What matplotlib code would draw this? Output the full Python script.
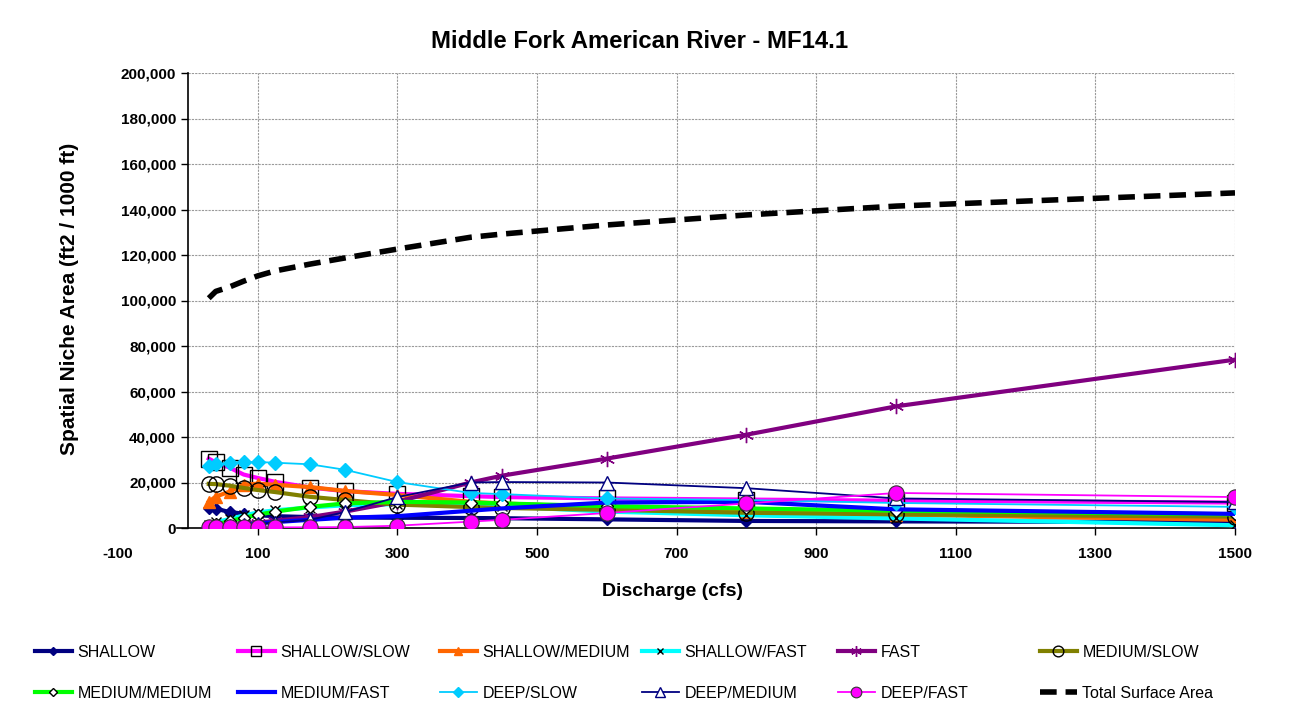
import matplotlib
matplotlib.use("Agg")
import matplotlib.pyplot as plt
from matplotlib.ticker import FuncFormatter

plt.rcParams['font.family'] = ['Liberation Sans', 'DejaVu Sans']

discharge = [30, 40, 60, 80, 100, 125, 175, 225, 300, 405, 450, 600, 800, 1015, 1500]

shallow        = [9000, 8500, 7000, 6300, 5600, 5200, 4800, 4600, 4500, 4400, 4300, 3800, 3100, 2900, 2600]
shallow_slow   = [30500, 28800, 26500, 23500, 22000, 20300, 17800, 16200, 15000, 14000, 13600, 13000, 12500, 12000, 11200]
shallow_medium = [11500, 13800, 16000, 19000, 19500, 19000, 18000, 16300, 14500, 11500, 10800, 9000, 7200, 5800, 3600]
shallow_fast   = [1500, 2500, 4000, 5500, 6800, 7800, 9000, 10000, 10500, 10000, 9500, 7200, 5600, 4200, 1200]
fast           = [500, 800, 1300, 1800, 2300, 3200, 4800, 7200, 11500, 20000, 23000, 30500, 41000, 53500, 74000]
medium_slow    = [19400, 19300, 18600, 17600, 16700, 15800, 13700, 12300, 10300, 9200, 8800, 8000, 6700, 6000, 5000]
medium_medium  = [800, 1600, 3000, 4500, 5800, 7200, 9300, 10800, 11500, 11200, 10800, 9600, 8600, 7600, 6000]
medium_fast    = [300, 600, 1000, 1500, 2000, 2600, 3600, 4500, 5200, 7600, 8600, 11200, 11500, 8200, 6200]
deep_slow      = [27200, 28000, 28500, 29000, 29000, 28700, 28000, 25600, 20200, 15400, 14900, 13000, 12300, 11000, 9300]
deep_medium    = [300, 500, 900, 1300, 1800, 2400, 3600, 7000, 13600, 20000, 20200, 20000, 17500, 13000, 11400]
deep_fast      = [300, 300, 300, 300, 300, 300, 300, 400, 1000, 2800, 3600, 6600, 10800, 15400, 13600]
total_area     = [101000, 104000, 106000, 108500, 110800, 113000, 116000, 118700, 122600, 127800, 129200, 133200, 137600, 141500, 147300]

labels = ['SHALLOW', 'SHALLOW/SLOW', 'SHALLOW/MEDIUM', 'SHALLOW/FAST', 'FAST', 'MEDIUM/SLOW',
          'MEDIUM/MEDIUM', 'MEDIUM/FAST', 'DEEP/SLOW', 'DEEP/MEDIUM', 'DEEP/FAST', 'Total Surface Area']
xticks = [-100, 100, 300, 500, 700, 900, 1100, 1300, 1500]
yticks = [0, 20000, 40000, 60000, 80000, 100000, 120000, 140000, 160000, 180000, 200000]

fig = plt.figure(figsize=(13, 7.15), dpi=100)
ax = fig.add_axes([118/1300, 1-528/715, (1235-118)/1300, (528-73)/715])

styles = [
    (shallow,        dict(color='#000080', lw=3, marker='D', ms=6, mfc='#000080', mec='#000080')),
    (shallow_slow,   dict(color='#FF00FF', lw=3, marker='s', ms=11, mfc='none', mec='black', mew=1)),
    (shallow_medium, dict(color='#FF6600', lw=3, marker='^', ms=9, mfc='#FF6600', mec='#FF6600')),
    (shallow_fast,   dict(color='#00FFFF', lw=3, marker='x', ms=7, mec='black', mew=1)),
    (fast,           dict(color='#800080', lw=3, marker=(6, 2, 0), ms=11, mec='#800080', mew=1)),
    (medium_slow,    dict(color='#808000', lw=3, marker='o', ms=11, mfc='none', mec='black', mew=1)),
    (medium_medium,  dict(color='#00FF00', lw=3, marker='D', ms=6, mfc='white', mec='black', mew=1)),
    (medium_fast,    dict(color='#0000FF', lw=3)),
    (deep_slow,      dict(color='#00CCFF', lw=1.3, marker='D', ms=7, mfc='#00CCFF', mec='#00CCFF')),
    (deep_medium,    dict(color='#000080', lw=1.3, marker='^', ms=10, mfc='white', mec='#000080', mew=1)),
    (deep_fast,      dict(color='#FF00FF', lw=1.3, marker='o', ms=11, mfc='#FF00FF', mec='#333333', mew=0.8)),
    (total_area,     dict(color='black', lw=4, dashes=(3, 1.6))),
]

handles = []
for (vals, st), lab in zip(styles, labels):
    h, = ax.plot(discharge, vals, label=lab, zorder=3, **st)
    handles.append(h)

ax.set_xlim(-100, 1500)
ax.set_ylim(0, 200000)
ax.set_xticks(xticks)
ax.set_yticks(yticks)
ax.xaxis.set_major_formatter(FuncFormatter(lambda v, p: f"{int(v)}"))
ax.yaxis.set_major_formatter(FuncFormatter(lambda v, p: f"{int(v):,}"))

for s in ['top', 'right']:
    ax.spines[s].set_visible(False)
ax.spines['left'].set_position(('data', 0))
ax.spines['left'].set_linewidth(1.2)
ax.spines['bottom'].set_linewidth(1.2)
ax.spines['bottom'].set_bounds(-15, 1500)
ax.tick_params(axis='both', direction='out', length=5, width=1, labelsize=11)
ax.tick_params(axis='x', pad=9)
ax.xaxis.get_major_ticks()[0].tick1line.set_visible(False)
for t in ax.get_xticklabels() + ax.get_yticklabels():
    t.set_fontweight('bold')

# gridlines
ax.hlines(yticks[1:], 0, 1500, colors='#9a9a9a', lw=0.8, linestyles=(0, (2, 1)), zorder=1)
ax.vlines(xticks[1:], 0, 200000, colors='#9a9a9a', lw=0.8, linestyles=(0, (2, 1)), zorder=1)

fig.text(640/1300, 1-42/715, 'Middle Fork American River - MF14.1', fontsize=17.2,
         fontweight='bold', ha='center', va='center')
fig.text(673/1300, 1-592/715, 'Discharge (cfs)', fontsize=14, fontweight='bold',
         ha='center', va='center')
fig.text(70/1300, 1-299/715, 'Spatial Niche Area (ft2 / 1000 ft)', fontsize=15,
         fontweight='bold', ha='center', va='center', rotation=90)

# legend: 6 columns, 2 rows
col_x = [35, 238, 440, 642, 838, 1040]
for j in range(6):
    fig.legend(handles=[handles[j], handles[j + 6]], labels=[labels[j], labels[j + 6]],
               loc='upper left', bbox_to_anchor=(col_x[j]/1300, 1-645/715),
               frameon=False, fontsize=11.5, handlelength=2.3, handletextpad=0.35,
               labelspacing=1.6, borderaxespad=0, borderpad=0,
               markerscale=0.7)

fig.savefig('out.png', dpi=100)
